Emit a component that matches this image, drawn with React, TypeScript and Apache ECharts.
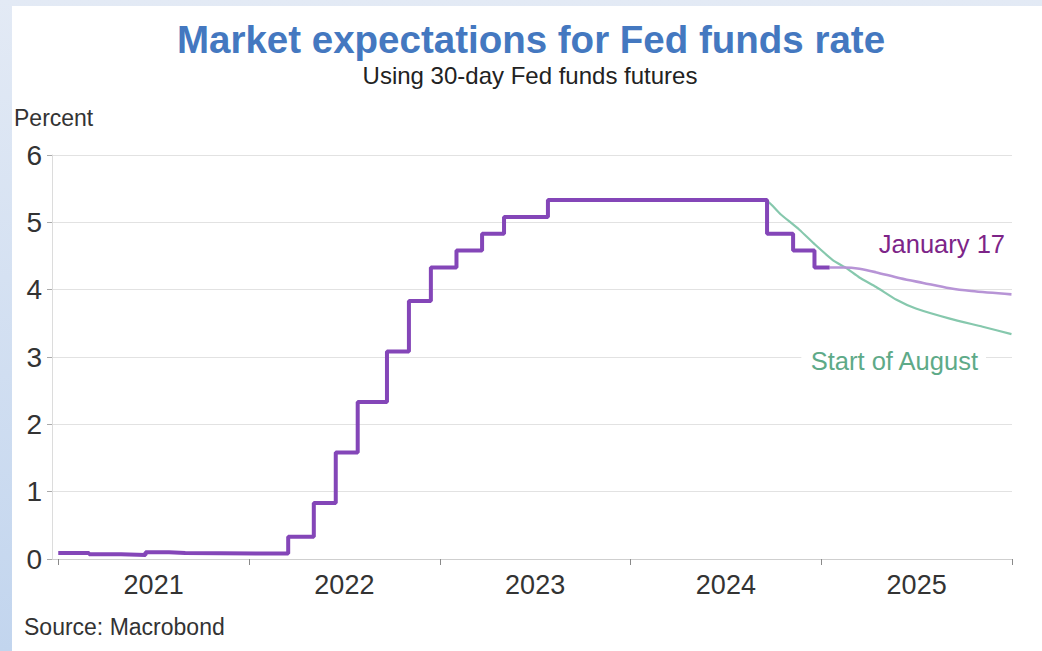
import React, { useEffect, useRef } from "react";
import * as echarts from "echarts";

// Effective Fed funds rate (history), change dates and levels
const HIST_DATES = [
  "2021-01-01", "2021-03-01", "2021-05-01", "2021-06-17", "2021-08-01", "2021-09-01",
  "2022-03-17", "2022-05-05", "2022-06-16", "2022-07-28", "2022-09-22", "2022-11-03",
  "2022-12-15", "2023-02-02", "2023-03-23", "2023-05-04", "2023-07-27", "2024-09-19",
  "2024-11-08", "2024-12-19", "2025-01-17",
];
const HIST_VALUES = [
  0.09, 0.07, 0.06, 0.1, 0.09, 0.08,
  0.33, 0.83, 1.58, 2.33, 3.08, 3.83,
  4.33, 4.58, 4.83, 5.08, 5.33, 4.83,
  4.58, 4.33, 4.33,
];

// Market expectations as of January 17
const JAN_DATES = [
  "2025-01-17", "2025-02-15", "2025-03-15", "2025-04-15", "2025-06-01",
  "2025-07-15", "2025-09-04", "2025-10-15", "2025-12-31",
];
const JAN_VALUES = [4.33, 4.33, 4.31, 4.26, 4.17, 4.1, 4.02, 3.98, 3.93];

// Market expectations at the start of August
const AUG_DATES = [
  "2024-08-01", "2024-09-15", "2024-10-15", "2024-11-20", "2024-12-20",
  "2025-01-23", "2025-02-18", "2025-03-15", "2025-04-16", "2025-05-25",
  "2025-07-01", "2025-09-04", "2025-11-06", "2025-12-31",
];
const AUG_VALUES = [
  5.33, 5.33, 5.12, 4.89, 4.67,
  4.44, 4.32, 4.18, 4.04, 3.85,
  3.72, 3.57, 3.45, 3.34,
];

const YEAR_TICKS = [2021, 2022, 2023, 2024, 2025, 2026];
const YEAR_LABEL_POS = [2021.5, 2022.5, 2023.5, 2024.5, 2025.5];

const FONT = "'Liberation Sans', Arial, sans-serif";

// date string -> fractional year
const toYear = (s: string) => {
  const [y, m, d] = s.split("-").map(Number);
  const start = Date.UTC(y, 0, 1);
  const end = Date.UTC(y + 1, 0, 1);
  return y + (Date.UTC(y, m - 1, d) - start) / (end - start);
};
const pairs = (dates: string[], values: number[]) => dates.map((d, i) => [toYear(d), values[i]]);

export default function App() {
  const ref = useRef<HTMLDivElement>(null);
  useEffect(() => {
    if (!ref.current) return;
    const chart = echarts.init(ref.current, undefined, { renderer: "svg" });
    chart.setOption({
      animation: false,
      grid: { left: 52, right: 30, top: 155, bottom: 92 },
      xAxis: {
        type: "value",
        min: toYear("2020-12-20"),
        max: 2026,
        axisLine: { show: true, lineStyle: { color: "#cfcfcf", width: 1 } },
        axisTick: {
          show: true,
          customValues: YEAR_TICKS,
          length: 6,
          lineStyle: { color: "#8a8a8a" },
        },
        axisLabel: {
          customValues: YEAR_LABEL_POS,
          formatter: (v: number) => String(Math.floor(v)),
          fontSize: 27,
          color: "#333",
          fontFamily: FONT,
          margin: 12,
        },
        splitLine: { show: false },
      },
      yAxis: {
        type: "value",
        min: 0,
        max: 6,
        interval: 1,
        axisLine: { show: true, lineStyle: { color: "#dcdcdc" } },
        axisTick: { show: true, length: 5, lineStyle: { color: "#aaa" } },
        axisLabel: { fontSize: 28, color: "#333", fontFamily: FONT, margin: 10 },
        splitLine: { show: true, lineStyle: { color: "#e2e2e2", width: 1 } },
      },
      graphic: [
        {
          type: "rect",
          z: -10,
          shape: { x: 12, y: 6, width: 1030, height: 645 },
          style: { fill: "#ffffff" },
        },
        {
          type: "text",
          x: 531,
          y: 39,
          style: {
            text: "Market expectations for Fed funds rate",
            fontSize: 38.5,
            fontWeight: "bold",
            fontFamily: FONT,
            fill: "#4478c0",
            align: "center",
            verticalAlign: "middle",
          },
        },
        {
          type: "text",
          x: 530,
          y: 75,
          style: {
            text: "Using 30-day Fed funds futures",
            fontSize: 24,
            fontFamily: FONT,
            fill: "#222",
            align: "center",
            verticalAlign: "middle",
          },
        },
        {
          type: "text",
          x: 14,
          y: 118,
          style: {
            text: "Percent",
            fontSize: 23,
            fontFamily: FONT,
            fill: "#333",
            align: "left",
            verticalAlign: "middle",
          },
        },
        {
          type: "text",
          x: 24,
          y: 627,
          style: {
            text: "Source: Macrobond",
            fontSize: 23,
            fontFamily: FONT,
            fill: "#333",
            align: "left",
            verticalAlign: "middle",
          },
        },
        {
          type: "text",
          x: 1005,
          y: 244,
          z: 50,
          style: {
            text: "January 17",
            fontSize: 25.5,
            fontFamily: FONT,
            fill: "#7d2488",
            align: "right",
            verticalAlign: "middle",
          },
        },
        {
          type: "text",
          x: 986,
          y: 361,
          z: 50,
          style: {
            text: "Start of August",
            fontSize: 25.5,
            fontFamily: FONT,
            fill: "#5eaa88",
            align: "right",
            verticalAlign: "middle",
            backgroundColor: "#ffffff",
            padding: [0, 8, 0, 8],
          },
        },
      ],
      series: [
        {
          name: "Start of August",
          type: "line",
          data: pairs(AUG_DATES, AUG_VALUES),
          showSymbol: false,
          smooth: 0.2,
          lineStyle: { color: "#86c8ad", width: 2.2 },
          z: 2,
        },
        {
          name: "January 17",
          type: "line",
          data: pairs(JAN_DATES, JAN_VALUES),
          showSymbol: false,
          smooth: 0.3,
          lineStyle: { color: "#b794d6", width: 2.6 },
          z: 3,
        },
        {
          name: "Fed funds rate",
          type: "line",
          step: "end",
          data: pairs(HIST_DATES, HIST_VALUES),
          showSymbol: false,
          lineStyle: { color: "#8446b8", width: 4 },
          z: 4,
        },
      ],
    });
    return () => chart.dispose();
  }, []);
  return (
    <div
      style={{
        position: "fixed",
        left: 0,
        top: 0,
        width: 1042,
        height: 651,
        background: "linear-gradient(to bottom, #e3eaf5, #c2d5ee)",
      }}
    >
      <div ref={ref} style={{ width: 1042, height: 651 }} />
    </div>
  );
}
